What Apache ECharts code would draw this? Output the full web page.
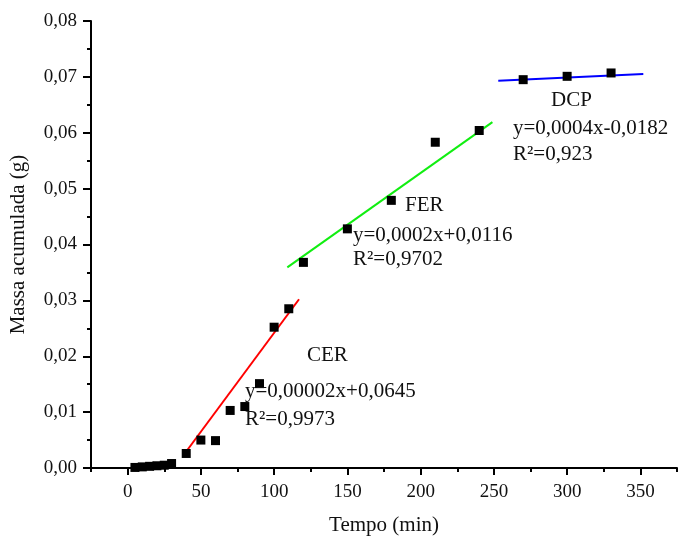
<!DOCTYPE html>
<html>
<head>
<meta charset="utf-8">
<script src="https://cdn.jsdelivr.net/npm/echarts@6/dist/echarts.min.js"></script>
<style>
  html, body { margin: 0; padding: 0; background: #fff; }
  #grafico { width: 678px; height: 539px; }
</style>
</head>
<body>
<div id="grafico"></div>
<script>
// Datos medidos (tiempo en min, masa en g)
var tiempos = [5, 10, 15, 20, 25, 30, 40, 50, 60, 70, 80, 90, 100, 110, 120, 150, 180, 210, 240, 270, 300, 330];
var masas = [0.0001, 0.0002, 0.0003, 0.0004, 0.0005, 0.0008, 0.0026, 0.005, 0.0049, 0.0103, 0.011, 0.0151, 0.0252, 0.0285,
  0.0368, 0.0428, 0.0479, 0.0583, 0.0604, 0.0695, 0.0701, 0.0707];

// Rectas de ajuste (extremos)
var ajusteCER = [[39, 0.0026], [117, 0.0302]];
var ajusteFER = [[109, 0.0359], [249, 0.0619]];
var ajusteDCP = [[253, 0.0693], [352, 0.0705]];

// Marcas del eje
var ticksX = [0, 50, 100, 150, 200, 250, 300, 350];
var ticksXMenores = [-25, 25, 75, 125, 175, 225, 275, 325, 375];

var fuente = "Liberation Serif";

function coma(v, d) {
  return v.toFixed(d).replace(".", ",");
}

var puntos = [];
for (var i = 0; i < tiempos.length; i++) {
  puntos.push([tiempos[i], masas[i]]);
}

function texto(t, x, y) {
  return {
    type: "text",
    x: x,
    y: y,
    style: {
      text: t,
      font: "21px " + fuente,
      fill: "#111",
      verticalAlign: "middle",
    },
    z: 10,
  };
}

var cuadro = { left: 91, right: 1, top: 21, bottom: 71, outerBoundsMode: "none", containLabel: false };

var option = {
  animation: false,
  backgroundColor: "#fff",
  grid: [cuadro, cuadro],
  xAxis: [
    {
      type: "value",
      gridIndex: 0,
      min: -25,
      max: 375,
      name: "Tempo (min)",
      nameLocation: "middle",
      nameGap: 47,
      nameTextStyle: { fontFamily: fuente, fontSize: 21, color: "#111" },
      axisLine: { show: true, onZero: false, lineStyle: { color: "#000", width: 2 } },
      axisTick: { show: true, length: 7, customValues: ticksX, lineStyle: { color: "#000", width: 2 } },
      axisLabel: { customValues: ticksX, fontFamily: fuente, fontSize: 19, color: "#111", margin: 15 },
      splitLine: { show: false },
    },
    {
      type: "value",
      gridIndex: 1,
      min: -25,
      max: 375,
      position: "bottom",
      axisLine: { show: false, onZero: false },
      axisTick: { show: true, length: 4, customValues: ticksXMenores, lineStyle: { color: "#000", width: 2 } },
      axisLabel: { show: false, customValues: ticksXMenores },
      splitLine: { show: false },
    },
  ],
  yAxis: [
    {
      type: "value",
      gridIndex: 0,
      min: 0,
      max: 0.08,
      interval: 0.01,
      name: "Massa acumulada (g)",
      nameLocation: "middle",
      nameGap: 62,
      nameTextStyle: { fontFamily: fuente, fontSize: 21, color: "#111" },
      axisLine: { show: true, onZero: false, lineStyle: { color: "#000", width: 2 } },
      axisTick: { show: true, length: 8, lineStyle: { color: "#000", width: 2 } },
      minorTick: { show: true, splitNumber: 2, length: 4, lineStyle: { color: "#000", width: 2 } },
      axisLabel: {
        fontFamily: fuente,
        fontSize: 19,
        color: "#111",
        margin: 14,
        formatter: function (v) { return coma(v, 2); },
      },
      splitLine: { show: false },
    },
    {
      type: "value",
      gridIndex: 1,
      min: 0,
      max: 0.08,
      show: false,
    },
  ],
  series: [
    {
      name: "CER",
      type: "line",
      data: ajusteCER,
      symbol: "none",
      lineStyle: { color: "#ff0000", width: 2 },
      z: 2,
    },
    {
      name: "FER",
      type: "line",
      data: ajusteFER,
      symbol: "none",
      lineStyle: { color: "#11ee11", width: 2 },
      z: 2,
    },
    {
      name: "DCP",
      type: "line",
      data: ajusteDCP,
      symbol: "none",
      lineStyle: { color: "#0000ff", width: 2 },
      z: 2,
    },
    {
      name: "Datos",
      type: "scatter",
      data: puntos,
      symbol: "rect",
      symbolSize: 9,
      itemStyle: { color: "#000", opacity: 1 },
      z: 3,
    },
  ],
  graphic: [
    texto("CER", 307, 355),
    texto("y=0,00002x+0,0645", 245, 391),
    texto("R²=0,9973", 245, 419),
    texto("FER", 405, 205),
    texto("y=0,0002x+0,0116", 353, 235),
    texto("R²=0,9702", 353, 259),
    texto("DCP", 551, 100),
    texto("y=0,0004x-0,0182", 513, 128),
    texto("R²=0,923", 513, 154),
  ],
};

var grafico = echarts.init(document.getElementById("grafico"));
grafico.setOption(option);
</script>
</body>
</html>
